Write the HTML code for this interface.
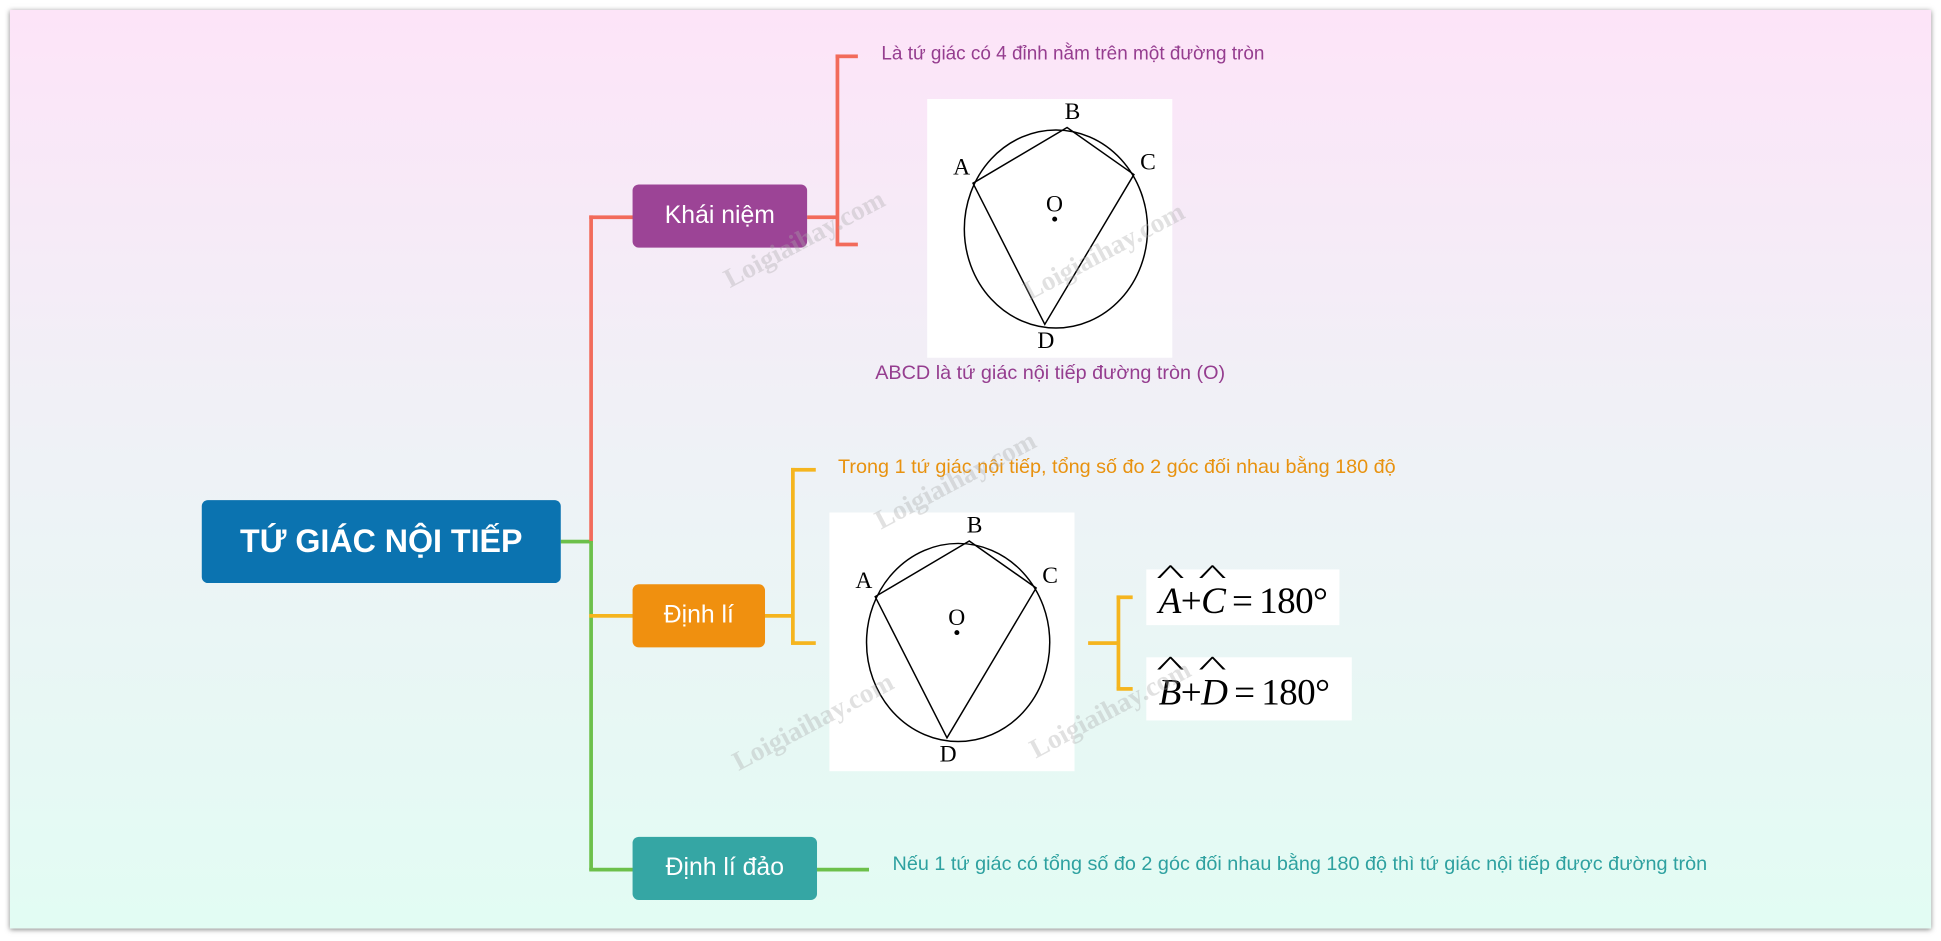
<!DOCTYPE html>
<html><head><meta charset="utf-8"><style>
html,body{margin:0;padding:0;width:1941px;height:941px;overflow:hidden;background:#fff;}
#s{position:absolute;left:0;top:0;width:1568px;height:760px;transform:scale(1.2379);transform-origin:0 0;font-family:"Liberation Sans",sans-serif;}
#bg{position:absolute;left:8px;top:8px;width:1552px;height:742px;background:linear-gradient(#fde4f8,#eef2f6 50%,#e2fcf3);box-shadow:0 1px 4px rgba(0,0,0,.5);}
.box{position:absolute;color:#fff;border-radius:5px;display:flex;align-items:center;justify-content:center;font-size:20px;}
.l{position:absolute;}
.t{position:absolute;font-size:15.3px;white-space:nowrap;}
.img{position:absolute;background:#fff;width:198px;height:209px;}
.wm{position:absolute;color:rgba(170,170,170,.35);font-family:"Liberation Serif",serif;font-weight:bold;font-size:22px;transform:rotate(-28deg);white-space:nowrap;}
.f{position:absolute;background:#fff;font-family:"Liberation Serif",serif;font-size:30px;display:flex;align-items:center;padding-left:10px;padding-top:6px;box-sizing:border-box;letter-spacing:-0.5px;}
.f i{position:relative;}
.f i:before{content:"^";position:absolute;left:4px;top:-18px;font-style:normal;font-size:22px;transform:scaleX(2.2);}
</style></head><body><div id="s">
<div id="bg"></div>
<div class="l" style="left:453px;top:436px;width:25px;height:3px;background:#6cc04a"></div>
<div class="l" style="left:476px;top:174px;width:3px;height:264px;background:#f26b5b"></div>
<div class="l" style="left:476px;top:174px;width:36px;height:3px;background:#f26b5b"></div>
<div class="l" style="left:476px;top:437px;width:3px;height:266px;background:#6cc04a"></div>
<div class="l" style="left:476px;top:496px;width:36px;height:3px;background:#f5b51e"></div>
<div class="l" style="left:476px;top:701px;width:36px;height:3px;background:#6cc04a"></div>
<div class="l" style="left:652px;top:174px;width:25px;height:3px;background:#f26b5b"></div>
<div class="l" style="left:675px;top:44px;width:3px;height:154px;background:#f26b5b"></div>
<div class="l" style="left:675px;top:44px;width:18px;height:3px;background:#f26b5b"></div>
<div class="l" style="left:675px;top:196px;width:18px;height:3px;background:#f26b5b"></div>
<div class="l" style="left:618px;top:496px;width:23px;height:3px;background:#f5b51e"></div>
<div class="l" style="left:639px;top:378px;width:3px;height:142px;background:#f5b51e"></div>
<div class="l" style="left:639px;top:378px;width:20px;height:3px;background:#f5b51e"></div>
<div class="l" style="left:639px;top:518px;width:20px;height:3px;background:#f5b51e"></div>
<div class="l" style="left:879px;top:518px;width:25px;height:3px;background:#f5b51e"></div>
<div class="l" style="left:902px;top:481px;width:3px;height:76px;background:#f5b51e"></div>
<div class="l" style="left:902px;top:481px;width:13px;height:3px;background:#f5b51e"></div>
<div class="l" style="left:902px;top:555px;width:13px;height:3px;background:#f5b51e"></div>
<div class="l" style="left:660px;top:701px;width:42px;height:3px;background:#6cc04a"></div>
<div class="box" style="left:163px;top:404px;width:290px;height:67px;background:#0b73b0;font-weight:bold;font-size:26px;">TỨ GIÁC NỘI TIẾP</div>
<div class="box" style="left:511px;top:149px;width:141px;height:51px;background:#9c4496;">Khái niệm</div>
<div class="box" style="left:511px;top:472px;width:107px;height:51px;background:#f0900f;">Định lí</div>
<div class="box" style="left:511px;top:676px;width:149px;height:51px;background:#35a6a4;">Định lí đảo</div>
<div class="t" style="left:712px;top:35px;color:#953d8f;">Là tứ giác có 4 đỉnh nằm trên một đường tròn</div>
<div class="t" style="left:707px;top:293px;color:#953d8f;font-size:16px;">ABCD là tứ giác nội tiếp đường tròn (O)</div>
<div class="t" style="left:677px;top:369px;color:#e8920f;font-size:16px;">Trong 1 tứ giác nội tiếp, tổng số đo 2 góc đối nhau bằng 180 độ</div>
<div class="t" style="left:721px;top:690px;color:#2ea1a0;font-size:16px;">Nếu 1 tứ giác có tổng số đo 2 góc đối nhau bằng 180 độ thì tứ giác nội tiếp được đường tròn</div>
<div class="img" style="left:749px;top:80px;"><svg width="198" height="209" font-family="Liberation Serif,serif" font-size="19"><ellipse cx="104" cy="105" rx="74" ry="80" fill="none" stroke="#000" stroke-width="1.2"/><polygon points="113,23 167,61 95,182 37,68" fill="none" stroke="#000" stroke-width="1.2"/><circle cx="103" cy="97" r="2" fill="#000"/><text x="111" y="16">B</text><text x="21" y="61">A</text><text x="172" y="57">C</text><text x="89" y="201">D</text><text x="96" y="91">O</text></svg></div>
<div class="img" style="left:670px;top:414px;"><svg width="198" height="209" font-family="Liberation Serif,serif" font-size="19"><ellipse cx="104" cy="105" rx="74" ry="80" fill="none" stroke="#000" stroke-width="1.2"/><polygon points="113,23 167,61 95,182 37,68" fill="none" stroke="#000" stroke-width="1.2"/><circle cx="103" cy="97" r="2" fill="#000"/><text x="111" y="16">B</text><text x="21" y="61">A</text><text x="172" y="57">C</text><text x="89" y="201">D</text><text x="96" y="91">O</text></svg></div>
<div class="f" style="left:926px;top:460px;width:156px;height:45px;"><i>A</i>+<i>C</i>&thinsp;=&thinsp;180°</div>
<div class="f" style="left:926px;top:531px;width:166px;height:51px;"><i>B</i>+<i>D</i>&thinsp;=&thinsp;180°</div>
<div class="wm" style="left:578px;top:180px;">Loigiaihay.com</div>
<div class="wm" style="left:820px;top:190px;">Loigiaihay.com</div>
<div class="wm" style="left:700px;top:375px;">Loigiaihay.com</div>
<div class="wm" style="left:585px;top:570px;">Loigiaihay.com</div>
<div class="wm" style="left:825px;top:560px;">Loigiaihay.com</div>
</div></body></html>
